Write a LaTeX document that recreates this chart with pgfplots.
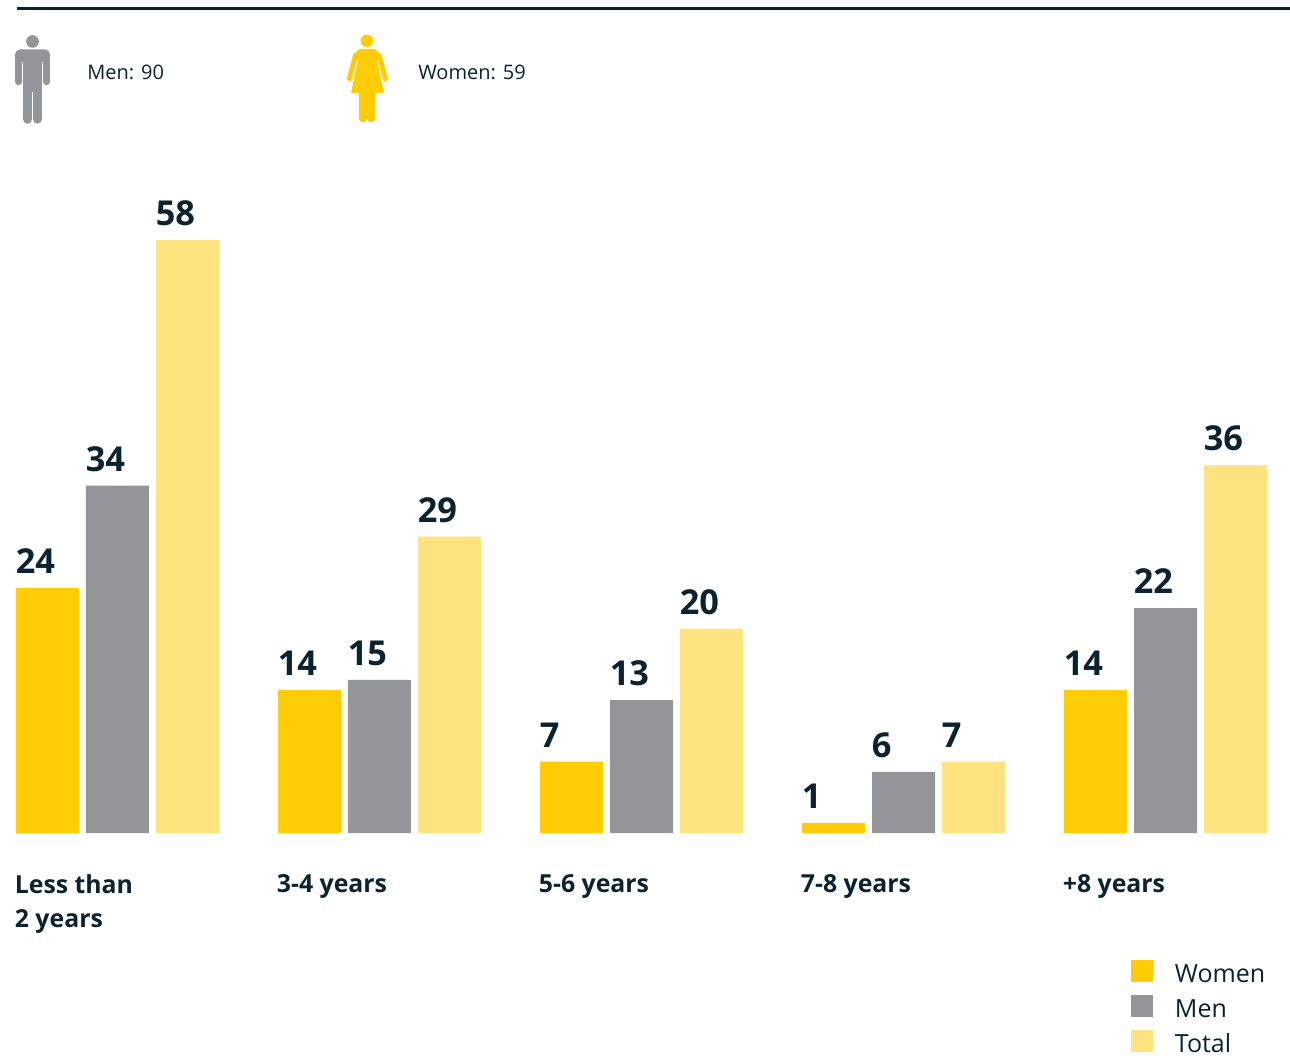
\documentclass[border=0pt]{standalone}
\usepackage{fontspec}
\setmainfont{Open Sans}
\usepackage{pgfplots}
\pgfplotsset{compat=1.18}
\definecolor{colw}{HTML}{FFCC05}
\definecolor{colm}{HTML}{949598}
\definecolor{colt}{HTML}{FFE37F}
\definecolor{ink}{HTML}{0B2330}
\begin{document}
\begin{tikzpicture}
\begin{axis}[
  at={(0,0)}, anchor=south west,
  scale only axis, width=774pt, height=499.8pt,
  clip=false,
  xmin=-0.44847, xmax=4.47519, ymin=0, ymax=81.47,
  axis line style={draw=none}, major tick length=0pt, ytick=\empty,
  ybar, bar width=37.8pt,
  /pgf/number format/assume math mode=true,
  xtick={0,1,2,3,4},
  xticklabels={{Less than\\2 years},{3-4 years},{5-6 years},{7-8 years},{+8 years}},
  xticklabel style={anchor=north west, align=left, font=\bfseries\fontsize{14.9}{20.4}\selectfont, text=ink, inner sep=0pt, xshift=-61.8pt, yshift=-24.8pt},
  nodes near coords,
  every node near coord/.append style={font=\bfseries\fontsize{20.6}{22}\selectfont, text=ink, anchor=base west, inner sep=0pt, xshift=-19.2pt, yshift=8.6pt},
  legend style={at={(0.8767,-0.15246)}, anchor=north west, draw=none, fill=none, inner sep=0pt, outer sep=0pt, font=\fontsize{15}{18}\selectfont, text=ink, row sep=4.8pt, nodes={inner sep=0pt, text height=13.2pt, text depth=3pt}, /tikz/every odd column/.style={column sep=13.2pt}},
  legend cell align=left,
  legend image code/.code={\fill[#1] (0pt,-5.1pt) rectangle (13.2pt,8.1pt);},
]
\addplot[fill=colw, draw=none, bar shift=-42pt] coordinates {(0,24) (1,14) (2,7) (3,1) (4,14)};
\addplot[fill=colm, draw=none, bar shift=0pt] coordinates {(0,34) (1,15) (2,13) (3,6) (4,22)};
\addplot[fill=colt, draw=none, bar shift=42pt] coordinates {(0,58) (1,29) (2,20) (3,7) (4,36)};
\legend{Women,Men,Total}
\end{axis}
\begin{scope}[x=0.6pt,y=-0.6pt,yshift=499.8pt]
\useasboundingbox (0,0) rectangle (1290,1053);
\draw[ink, line width=1.5pt] (17,8.5) -- (1290,8.5);
% man icon
\fill[colm] (32.5,41.3) circle (3.8pt);
\fill[colm, rounded corners=3pt] (15,62) -- (15,49.3) -- (50,49.3) -- (50,62) -- cycle;
\fill[colm] (23,55) rectangle (42,92);
\draw[colm, line width=4.2pt, line cap=round] (18.5,56) -- (18.5,81.5);
\draw[colm, line width=4.2pt, line cap=round] (46.5,56) -- (46.5,81.5);
\draw[colm, line width=5.4pt, line cap=round] (27.5,88) -- (27.5,119);
\draw[colm, line width=5.4pt, line cap=round] (37.5,88) -- (37.5,119);
% woman icon
\fill[colw] (367,40.7) circle (3.8pt);
\fill[colw, rounded corners=2.4pt] (353.5,60) -- (357,48.7) -- (377,48.7) -- (381.5,60) -- cycle;
\fill[colw, rounded corners=0.6pt] (360,52) -- (374.5,52) -- (377,60) -- (384,92.7) -- (351,92.7) -- (358,60) -- cycle;
\draw[colw, line width=3pt, line cap=round] (355.5,55) -- (349.5,78.5);
\draw[colw, line width=3pt, line cap=round] (379,55) -- (385.5,78.5);
\draw[colw, line width=4.5pt, line cap=round] (362.8,90) -- (362.8,118.5);
\draw[colw, line width=4.5pt, line cap=round] (371.2,90) -- (371.2,118.5);
\node[anchor=base west, inner sep=0pt, text=ink, font=\fontsize{12}{15}\selectfont] at (87,79) {Men: 90};
\node[anchor=base west, inner sep=0pt, text=ink, font=\fontsize{12}{15}\selectfont] at (418,79) {Women: 59};
\end{scope}
\end{tikzpicture}
\end{document}
